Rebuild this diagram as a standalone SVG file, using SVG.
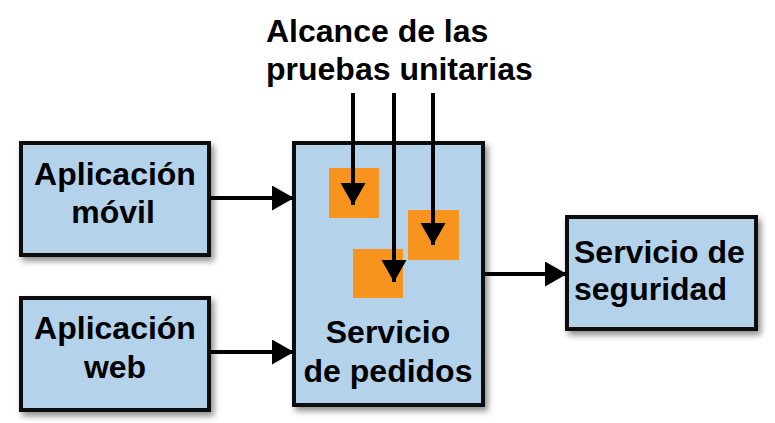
<svg xmlns="http://www.w3.org/2000/svg" width="775" height="423" viewBox="0 0 775 423">
<defs>
<style>
.box{fill:#b4d3eb;stroke:#111;stroke-width:4;filter:url(#sh)}
.sq{fill:#f7941e}
.t{font-family:"Liberation Sans",Arial,sans-serif;font-weight:bold;font-size:32px;fill:#000}
.c{text-anchor:middle}
.ln{stroke:#000;stroke-width:4;fill:none;marker-end:url(#ah)}
</style>
<filter id="sh" x="-10%" y="-10%" width="130%" height="130%">
<feDropShadow dx="3" dy="4" stdDeviation="3" flood-color="#000" flood-opacity="0.45"/>
</filter>
<marker id="ah" markerUnits="userSpaceOnUse" markerWidth="24" markerHeight="26" refX="22" refY="12.5" orient="auto" viewBox="0 0 24 26">
<path d="M0,0 L22,12.5 L0,25 z" fill="#000"/>
</marker>
</defs>
<g id="title">
<text class="t" x="266" y="42">Alcance de las</text>
<text class="t" x="266" y="80">pruebas unitarias</text>
</g>
<g id="movil">
<rect class="box" x="21" y="143" width="188" height="112"/>
<text class="t c" x="115" y="185">Aplicación</text>
<text class="t c" x="113" y="223">móvil</text>
</g>
<g id="web">
<rect class="box" x="21" y="298" width="188" height="112"/>
<text class="t c" x="115" y="339">Aplicación</text>
<text class="t c" x="115" y="378">web</text>
</g>
<g id="pedidos">
<rect class="box" x="294" y="143" width="189" height="262"/>
<rect class="sq" x="329" y="168" width="50" height="50"/>
<rect class="sq" x="353" y="249" width="50" height="49"/>
<rect class="sq" x="408" y="210" width="51" height="50"/>
<text class="t c" x="388" y="343">Servicio</text>
<text class="t c" x="388" y="382">de pedidos</text>
</g>
<g id="seguridad">
<rect class="box" x="567" y="217" width="189" height="112"/>
<text class="t" x="574" y="263">Servicio de</text>
<text class="t" x="574" y="300">seguridad</text>
</g>
<g id="connectors">
<line class="ln" x1="211" y1="198" x2="294" y2="198"/>
<line class="ln" x1="211" y1="352" x2="294" y2="352"/>
<line class="ln" x1="485" y1="274" x2="567" y2="274"/>
<line class="ln" x1="353" y1="93" x2="353" y2="205"/>
<line class="ln" x1="394" y1="93" x2="394" y2="282"/>
<line class="ln" x1="433" y1="93" x2="433" y2="245"/>
</g>
</svg>
